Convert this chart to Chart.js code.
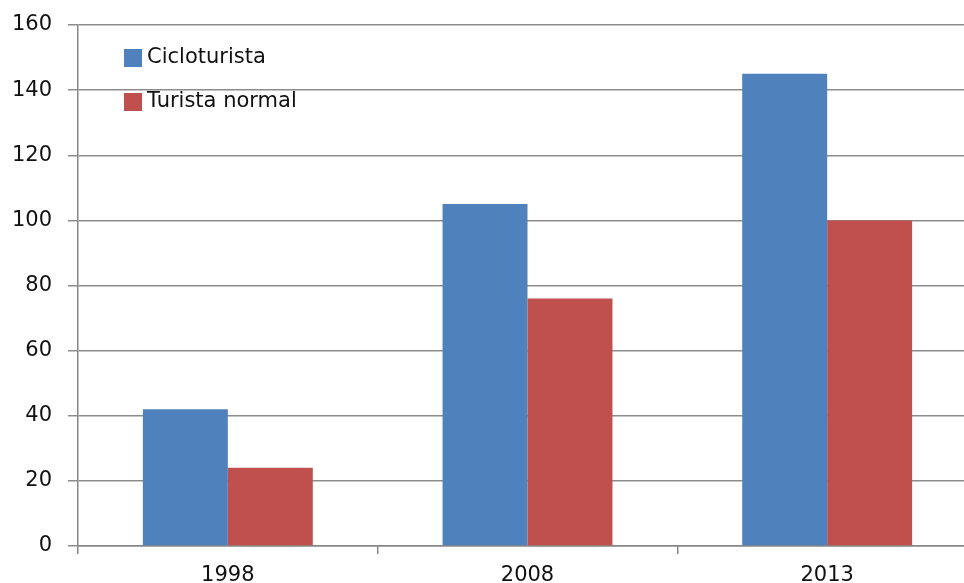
<!DOCTYPE html>
<html>
<head>
<meta charset="utf-8">
<script src="https://cdn.jsdelivr.net/npm/chart.js@4/dist/chart.umd.min.js"></script>
<style>
  html, body { margin: 0; padding: 0; background: #fff; overflow: hidden; }
  #wrap { width: 980px; height: 583px; }
</style>
</head>
<body>
<div id="wrap"><canvas id="chart"></canvas></div>
<script>
const years = ["1998", "2008", "2013"];
const cicloturista = [42, 105, 145];
const turistaNormal = [24, 76, 100];
const yTicks = [0, 20, 40, 60, 80, 100, 120, 140, 160];

const FONT = "'DejaVu Sans', Verdana, sans-serif";

// legend drawn inside the plot, top-left like the original
const innerLegend = {
	id: "innerLegend",
	afterDraw(chart) {
		const ctx = chart.ctx;
		const left = chart.chartArea.left + 46;
		let y = chart.chartArea.top + 33;
		ctx.save();
		ctx.font = "21px " + FONT;
		ctx.textBaseline = "middle";
		chart.data.datasets.forEach(ds => {
			ctx.fillStyle = ds.backgroundColor;
			ctx.fillRect(left, y - 9, 18, 18);
			ctx.fillStyle = "#111";
			ctx.fillText(ds.label, left + 23, y);
			y += 44;
		});
		ctx.restore();
	}
};

new Chart(document.getElementById("chart"), {
	type: "bar",
	data: {
		labels: years,
		datasets: [
			{ label: "Cicloturista", data: cicloturista, backgroundColor: "#4F81BD" },
			{ label: "Turista normal", data: turistaNormal, backgroundColor: "#C0504D" }
		]
	},
	options: {
		responsive: true,
		maintainAspectRatio: false,
		animation: false,
		layout: { padding: { top: 25, right: 3, left: 0, bottom: 0 } },
		datasets: { bar: { categoryPercentage: 0.567, barPercentage: 1.0 } },
		plugins: {
			legend: { display: false },
			tooltip: { enabled: false }
		},
		scales: {
			x: {
				grid: { drawOnChartArea: false, drawTicks: true, tickLength: 8, color: "#868686", lineWidth: 1.5 },
				border: { color: "#868686", width: 1.5 },
				ticks: { color: "#111", font: { family: FONT, size: 21 }, padding: 9 },
				afterFit(scale) { scale.height = 37; }
			},
			y: {
				min: 0,
				max: 160,
				afterBuildTicks(scale) { scale.ticks = yTicks.map(v => ({ value: v })); },
				grid: { color: "#8c8c8c", lineWidth: 1.5, tickLength: 10 },
				border: { color: "#868686", width: 1.5 },
				ticks: { color: "#111", font: { family: FONT, size: 21, lineHeight: 0.8 }, padding: 16 },
				afterFit(scale) { scale.width = 78; }
			}
		}
	},
	plugins: [innerLegend]
});
</script>
</body>
</html>
